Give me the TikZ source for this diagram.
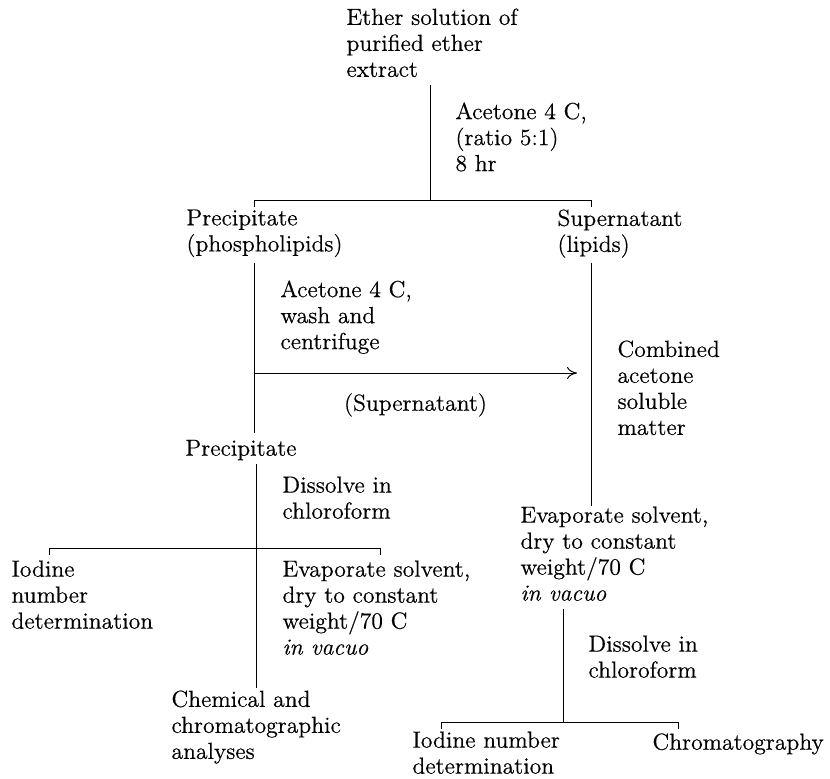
\documentclass[tikz,border=0pt]{standalone}
\usepackage{fontspec}
\setmainfont{Latin Modern Roman}[FakeBold=0.5,FakeStretch=1.02]
\usetikzlibrary{arrows.meta}
\begin{document}
\begin{tikzpicture}[x=0.5pt,y=-0.5pt,line width=0.5pt,
    txt/.style={anchor=north west,inner sep=0pt,align=left,
      font=\fontsize{11.6}{13}\selectfont,
      execute at begin node=\strut,execute at end node=\strut},
    tick/.style={yshift=-3.5pt}]
    \useasboundingbox (0,0) rectangle (830,778);
    % texts
    \node[txt] (ether) at (346,8) {Ether solution of\\purified ether\\extract};
    \node[txt] (acet1) at (455,102) {Acetone 4 C,\\(ratio 5:1)\\8 hr};
    \node[txt] (prec1) at (186,209) {Precipitate\\(phospholipids)};
    \node[txt] (super1) at (557,209) {Supernatant\\(lipids)};
    \node[txt] (acet2) at (280,280) {Acetone 4 C,\\wash and\\centrifuge};
    \node[txt] (comb) at (617,340) {Combined\\acetone\\soluble\\matter};
    \node[txt] (prec2) at (185,437) {Precipitate};
    \node[txt] (diss1) at (282,476) {Dissolve in\\chloroform};
    \node[txt] (evap2) at (520,506) {Evaporate solvent,\\dry to constant\\weight/70 C\\\textit{in vacuo}};
    \node[txt] (iod1) at (11,560) {Iodine\\number\\determination};
    \node[txt] (evap1) at (282,560) {Evaporate solvent,\\dry to constant\\weight/70 C\\\textit{in vacuo}};
    \node[txt] (diss2) at (588,635) {Dissolve in\\chloroform};
    \node[txt] (chem) at (171,690) {Chemical and\\chromatographic\\analyses};
    \node[txt] (iod2) at (412,731) {Iodine number\\determination};
    \node[txt] (chrom) at (652,731) {Chromatography};
    % junctions
    \coordinate (j1) at (430,200);
    \coordinate (t1l) at (254,200);
    \coordinate (t1r) at (591,200);
    \coordinate (j2) at (256,548);
    \coordinate (t2l) at (49,548);
    \coordinate (t2r) at (380,548);
    \coordinate (j3) at (563,722);
    \coordinate (t3l) at (441,722);
    \coordinate (t3r) at (678,722);
    \coordinate (s1) at (254,373);
    \coordinate (s2) at (577,373);
    % lines
    \draw (ether.south -| j1) -- (j1);
    \draw ([tick]t1l) -- (t1l) -- (t1r) -- ([tick]t1r);
    \draw[shorten <=1.5pt,shorten >=2pt] (prec1.south -| t1l) -- (prec2.north -| t1l);
    \draw[shorten <=1.5pt] (super1.south -| t1r) -- (evap2.north -| t1r);
    \draw[-{To[length=5pt,width=6pt]}] (s1) -- (s2)
        node[txt,midway,anchor=north,yshift=-9.5pt] (sup2) {(Supernatant)};
    \draw[shorten >=1pt] (prec2.south -| j2) -- (chem.north -| j2);
    \draw ([tick]t2l) -- (t2l) -- (t2r) -- ([tick]t2r);
    \draw (evap2.south -| j3) -- (j3);
    \draw ([tick]t3l) -- (t3l) -- (t3r) -- ([tick]t3r);
\end{tikzpicture}
\end{document}
